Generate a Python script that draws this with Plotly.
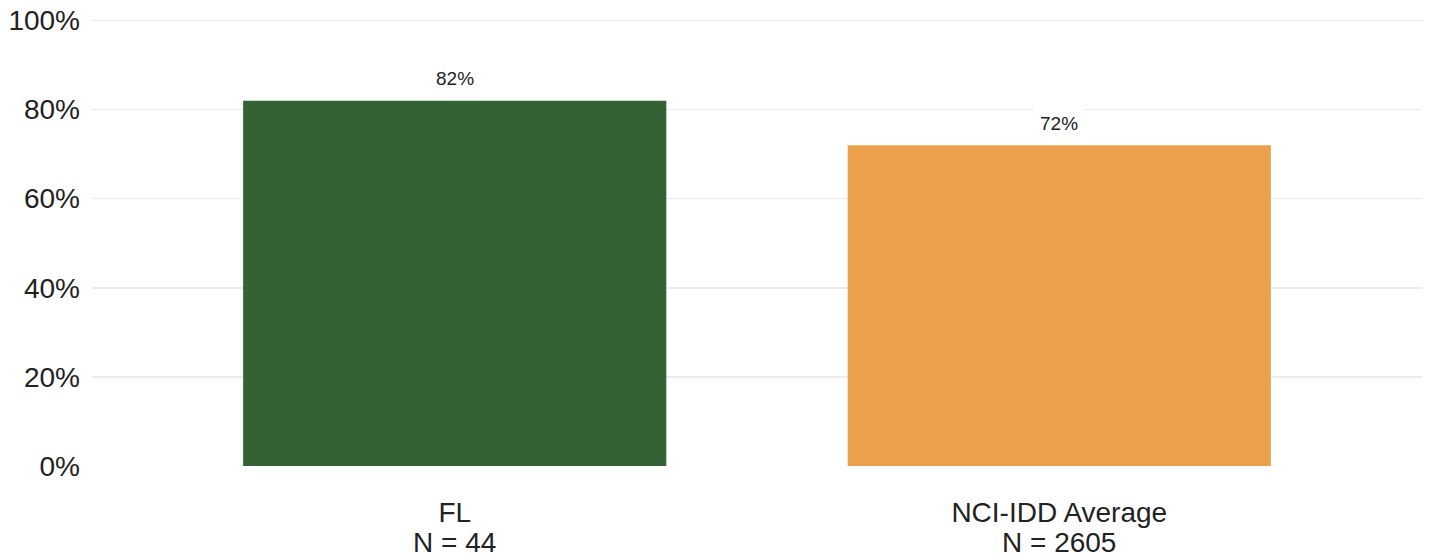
import plotly.graph_objects as go

categories = ["FL", "NCI-IDD Average"]
tick_labels = ["FL", "NCI-IDD Average"]
n_labels = ["N = 44", "N = 2605"]
values = [0.82, 0.72]
value_labels = ["82%", "72%"]
colors = ["#336334", "#EBA04B"]
y_ticks = [0, 0.2, 0.4, 0.6, 0.8, 1.0]
y_tick_labels = ["0%", "20%", "40%", "60%", "80%", "100%"]

FONT = "Liberation Sans, Arial, sans-serif"

fig = go.Figure()
fig.add_trace(go.Bar(
    x=categories, y=values, marker=dict(color=colors, line=dict(width=0)),
    width=0.7, hoverinfo="skip", showlegend=False,
))

for c, v, t in zip(categories, values, value_labels):
    fig.add_annotation(
        x=c, y=v, xref="x", yref="y", text=t, showarrow=False,
        yanchor="middle", yshift=22, bgcolor="white", borderpad=6,
        font=dict(family=FONT, size=19, color="#222222"),
    )

for c, n in zip(categories, n_labels):
    fig.add_annotation(
        x=c, y=0, xref="x", yref="paper", text=n, showarrow=False,
        yanchor="middle", yshift=-76,
        font=dict(family=FONT, size=28, color="#222222"),
    )

fig.update_layout(
    width=1429, height=560,
    margin=dict(l=92, r=7, t=15.5, b=94),
    plot_bgcolor="white", paper_bgcolor="white",
    font=dict(family=FONT, color="#222222"),
)
fig.update_xaxes(
    range=[-0.6, 1.6], tickmode="array", tickvals=categories, ticktext=tick_labels,
    showgrid=False, zeroline=False, showline=False, ticks="", automargin=False,
    tickfont=dict(size=28, color="#222222"), ticklabelstandoff=27,
)
fig.update_yaxes(
    range=[0, 1.01], tickmode="array", tickvals=y_ticks, ticktext=y_tick_labels,
    showgrid=True, gridcolor="#EBEBEB", gridwidth=1.5, zeroline=False, showline=False,
    ticks="", automargin=False, tickfont=dict(size=28, color="#222222"), ticklabelstandoff=11,
    ticklabeloverflow="allow",
)

fig.write_html(
    "out.html",
    config={"displayModeBar": False, "staticPlot": True},
    post_script="document.body.style.margin='0';document.body.style.overflow='hidden';",
)
